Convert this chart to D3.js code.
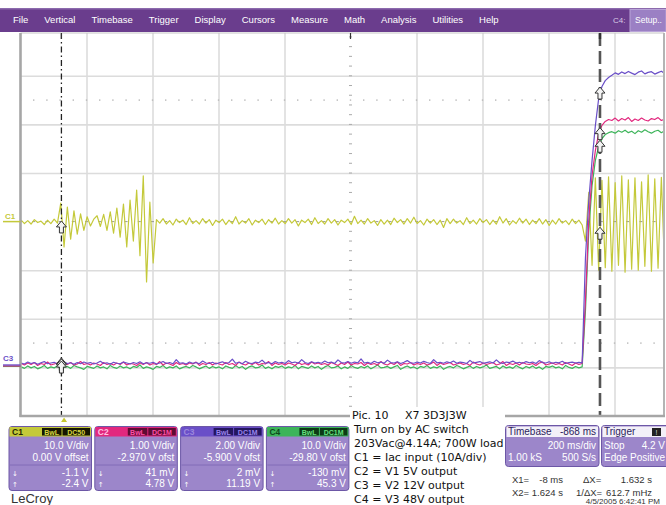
<!DOCTYPE html>
<html>
<head>
<meta charset="utf-8">
<script src="https://cdn.jsdelivr.net/npm/d3@7"></script>
<style>
  body { margin: 0; background: #fff; }
  svg { display: block; font-family: "Liberation Sans", Arial, sans-serif; }
</style>
</head>
<body>
<svg width="666" height="505"></svg>
<script>
var width = 666;
var height = 505;

// screen geometry (10 x 8 divisions, top row hidden under the menu bar)
var plotLeft = 20.5, plotRight = 680.5, plotTop = 27.2, plotBottom = 416;
var viewTop = 33, viewRight = 664;

// ---- DATA ----
// time axis: 200 ms/div, delay -868 ms
var timeDomain = [-0.132, 1.868];
var sampleStart = -0.13, sampleStep = 0.01;

// C1 Iac input (A)
var c1Amps = [
  0.3,-0.4,0.2,-0.5,0.4,-0.2,0.1,-0.6,0.3,-0.4,0.5,-0.3,
  3.8,-5.2,3.0,-3.6,2.2,-2.6,1.6,-1.8,1.0,-0.9,0.5,
  1.2,-1.0,1.5,-1.8,2.0,-2.4,2.8,-3.2,3.6,-5.2,4.4,-4.0,6.5,-7.0,9.4,-12.4,4.0,-8.5,
  0.4,-0.3,0.6,-0.5,0.2,-0.7,0.5,-0.2,0.3,-0.6,
  0.8,-0.4,0.2,-0.5,0.6,-0.3,0.4,-0.8,0.3,-0.2,
  0.5,-0.6,0.3,-0.4,1.0,-0.5,0.2,-0.3,0.6,-0.7,
  0.3,-0.2,0.5,-0.6,0.4,-0.3,0.7,-0.5,0.2,-0.4,
  0.6,-0.3,0.4,-0.9,0.3,-0.2,0.5,-0.6,0.8,-0.4,
  0.2,-0.5,0.6,-0.3,0.4,-0.7,0.3,-0.2,0.5,-0.6,
  1.1,-0.4,0.3,-0.5,0.6,-0.3,0.2,-0.8,0.4,-0.5,
  0.3,-0.6,0.7,-0.2,0.4,-0.5,0.6,-0.3,0.9,-0.4,
  0.2,-0.7,0.5,-0.3,0.4,-0.6,0.3,-1.2,0.6,-0.4,
  0.5,-0.3,0.2,-0.6,0.8,-0.4,0.3,-0.5,0.6,-0.2,
  0.4,-0.6,0.3,-0.5,1.0,-0.3,0.6,-0.7,0.2,-0.4,
  0.7,-0.3,0.5,-0.6,0.3,-0.4,0.6,-0.5,0.4,-0.8,
  0.3,-0.5,0.6,-0.3,0.2,-0.6,0.5,-0.4,0.3,-0.7,
  -4.0,
  6.0,-9.0,9.0,-10.0,8.5,-9.5,9.2,-10.2,8.0,-9.0,9.4,-10.4,8.6,-9.8,9.0,-10.0,
  8.2,-9.2,9.6,-10.2,8.8,-9.6,9.1,-10.0,8.4,-9.4,9.3,-10.1,8.7
];

// C2 V1 5V output (V)
var c2Volts = [
  0.05,0.02,0.06,0.03,0.07,0.01,0.05,0.03,0.08,0.02,
  0.04,0.06,0.01,0.05,0.03,0.07,0.02,0.04,0.09,0.03,
  0.05,0.02,0.06,0.04,0.01,0.07,0.03,0.05,0.02,0.06,
  0.03,0.08,0.02,0.05,0.04,0.01,0.06,0.03,0.07,0.02,
  0.05,0.03,0.09,0.02,0.06,0.04,0.01,0.07,0.03,0.05,
  0.02,0.06,0.04,0.08,0.01,0.05,0.03,0.07,0.02,0.06,
  0.04,0.02,0.07,0.03,0.05,0.01,0.08,0.04,0.02,0.06,
  0.03,0.07,0.02,0.05,0.04,0.09,0.01,0.06,0.03,0.05,
  0.02,0.06,0.04,0.01,0.07,0.03,0.05,0.02,0.08,0.04,
  0.06,0.03,0.05,0.02,0.07,0.04,0.01,0.06,0.03,0.08,
  0.02,0.05,0.04,0.07,0.01,0.06,0.03,0.05,0.02,0.09,
  0.04,0.02,0.06,0.03,0.08,0.01,0.05,0.04,0.07,0.02,
  0.05,0.03,0.06,0.02,0.04,0.08,0.01,0.06,0.03,0.05,
  0.07,0.02,0.04,0.06,0.03,0.05,0.01,0.08,0.04,0.02,
  0.06,0.03,0.05,0.07,0.02,0.04,0.09,0.01,0.05,0.03,
  0.06,0.02,0.07,0.04,0.03,0.05,0.01,0.06,0.08,0.02,
  0.04,0.06,0.03,0.05,0.02,0.07,0.04,0.01,0.06,0.03,
  0.05,
  1.35,2.99,3.92,4.43,4.78,4.95,5.03,5.07,
  5.05,5.10,5.04,5.09,5.06,5.11,5.03,5.08,5.05,5.10,5.06,
  5.04,5.09,5.07,5.11,5.05,5.08,5.04,5.10,5.06,5.09,5.05
];

// C3 V2 12V output (V)
var c3Volts = [
  0.08,0.04,0.12,0.06,0.10,0.03,0.09,0.14,0.05,0.08,
  0.11,0.04,0.07,0.13,0.06,0.09,0.03,0.10,0.05,0.12,
  0.07,0.10,0.04,0.08,0.15,0.06,0.09,0.03,0.11,0.07,
  0.05,0.12,0.08,0.04,0.10,0.06,0.13,0.05,0.09,0.07,
  0.11,0.04,0.08,0.14,0.06,0.10,0.05,0.22,0.07,0.09,
  0.04,0.12,0.07,0.10,0.05,0.16,0.08,0.06,0.11,0.04,
  0.09,0.13,0.06,0.10,0.24,0.07,0.11,0.05,0.15,0.08,
  0.06,0.12,0.09,0.20,0.07,0.10,0.05,0.14,0.08,0.11,
  0.06,0.18,0.09,0.12,0.07,0.22,0.10,0.06,0.13,0.08,
  0.11,0.07,0.16,0.09,0.12,0.06,0.21,0.10,0.08,0.14,
  0.07,0.12,0.09,0.25,0.08,0.11,0.06,0.15,0.09,0.12,
  0.07,0.20,0.10,0.08,0.13,0.06,0.11,0.18,0.09,0.07,
  0.12,0.08,0.15,0.10,0.06,0.22,0.09,0.11,0.07,0.13,
  0.09,0.16,0.07,0.12,0.10,0.06,0.19,0.08,0.11,0.14,
  0.07,0.10,0.13,0.08,0.21,0.09,0.06,0.12,0.10,0.16,
  0.08,0.11,0.07,0.14,0.09,0.12,0.06,0.18,0.10,0.08,
  0.13,0.07,0.11,0.09,0.15,0.06,0.10,0.12,0.08,0.11,
  0.09,
  4.42,6.76,8.41,9.85,10.96,11.46,11.70,11.83,11.92,
  12.02,11.96,12.06,11.99,12.08,12.01,11.95,12.05,12.10,11.98,12.04,
  12.07,11.97,12.03,12.09,12.00,11.96,12.06,12.02,12.08,11.99
];

// C4 V3 48V output (V)
var c4Volts = [
  -0.1,-0.4,0.1,-0.3,0.0,-0.5,-0.2,0.2,-0.4,-0.1,
  -0.3,0.1,-0.5,-0.2,0.0,-0.4,0.2,-0.1,-0.3,-0.6,
  0.0,-0.2,-0.4,0.1,-0.3,-0.1,-0.5,0.2,-0.2,-0.4,
  0.1,-0.3,-0.1,-0.5,0.0,-0.2,0.3,-0.4,-0.1,-0.3,
  -0.6,0.0,-0.2,0.2,-0.4,-0.1,-0.3,0.1,-0.5,-0.2,
  0.0,-0.3,0.2,-0.1,-0.5,-0.2,0.1,-0.4,0.0,-0.3,
  -0.1,-0.5,0.1,-0.2,-0.4,0.2,-0.3,0.0,-0.6,-0.1,
  0.1,-0.3,-0.2,0.3,-0.4,-0.1,-0.5,0.0,-0.2,0.1,
  -0.4,-0.1,-0.3,0.2,-0.5,0.0,-0.2,-0.4,0.1,-0.3,
  0.0,-0.6,-0.1,0.2,-0.3,-0.2,0.1,-0.5,-0.1,-0.4,
  0.2,-0.2,-0.4,0.0,-0.3,0.1,-0.5,-0.1,0.3,-0.3,
  -0.2,0.0,-0.4,-0.1,0.2,-0.6,-0.2,0.1,-0.3,-0.1,
  -0.5,0.0,-0.2,0.2,-0.4,-0.1,-0.3,0.1,-0.6,-0.2,
  0.0,-0.3,0.2,-0.1,-0.5,-0.2,0.1,-0.4,0.0,-0.3,
  -0.1,0.3,-0.4,-0.2,0.0,-0.5,0.1,-0.3,-0.1,-0.4,
  0.2,-0.2,-0.5,0.0,-0.3,0.1,-0.4,-0.1,-0.6,0.0,
  -0.2,0.1,-0.3,-0.1,-0.5,0.2,-0.2,-0.4,0.0,-0.3,
  -0.1,
  11.5,27.9,37.2,42.4,45.2,46.9,47.7,48.1,
  48.3,48.0,48.5,48.2,48.6,48.1,48.4,47.9,48.5,48.2,48.7,
  48.3,48.0,48.4,48.6,48.1,48.5,48.2,48.3,48.6,48.0,48.4
];

var channelNames = ["C1", "C2", "C3", "C4"];
var voltsPerDiv = [10, 1, 2, 10];
var channelOffsets = [0, -2.97, -5.9, -29.8];
var scaleLabels = ["10.0 V/div", "1.00 V/div", "2.00 V/div", "10.0 V/div"];
var offsetLabels = ["0.00 V offset", "-2.970 V ofst", "-5.900 V ofst", "-29.80 V ofst"];
var couplingLabels = ["DC50", "DC1M", "DC1M", "DC1M"];
var cursor1Values = [-1.1, 0.041, 0.002, -0.13];
var cursor2Values = [-2.4, 4.78, 11.19, 45.3];
var cursor1Labels = ["-1.1 V", "41 mV", "2 mV", "-130 mV"];
var cursor2Labels = ["-2.4 V", "4.78 V", "11.19 V", "45.3 V"];
var cursorTimes = [-0.008, 1.624];
var triggerTime = 0;

var menuItems = ["File", "Vertical", "Timebase", "Trigger", "Display", "Cursors",
                 "Measure", "Math", "Analysis", "Utilities", "Help"];
var noteTitle = ["Pic. 10", "X7 3D3J3W"];
var noteLines = ["Turn on by AC switch", "203Vac@4.14A; 700W load", "C1 = Iac input (10A/div)",
                 "C2 = V1 5V output", "C3 = V2 12V output", "C4 = V3 48V output"];

// ---- STYLES ----
var traceColors = ["#c4c93a", "#e2287e", "#6a4fc8", "#3db45a"];
var headerText = ["#262600", "#ffc2e2", "#9c88dc", "#0e4a1c"];
var tagFill = ["#161600", "#5e0c34", "#24165e", "#0c3a16"];
var tagText = ["#d8d840", "#ff4fa8", "#9a84ee", "#64e07e"];
var panelFill = "#9c86ca", panelStroke = "#6c57a6";

var svg = d3.select("svg").attr("width", width).attr("height", height);

svg.append("defs").append("clipPath").attr("id", "screen")
  .append("rect")
    .attr("x", plotLeft).attr("y", viewTop)
    .attr("width", viewRight - plotLeft).attr("height", plotBottom - viewTop);

// scales
var xScale = d3.scaleLinear().domain(timeDomain).range([plotLeft, plotRight]);
var divX = d3.scaleLinear().domain([0, 10]).range([plotLeft, plotRight]);
var divY = d3.scaleLinear().domain([-4, 4]).range([plotBottom, plotTop]);
var yScales = channelNames.map(function (c, i) {
  var center = -channelOffsets[i];
  return d3.scaleLinear()
    .domain([center - 4 * voltsPerDiv[i], center + 4 * voltsPerDiv[i]])
    .range([plotBottom, plotTop]);
});

// grid
var screen = svg.append("g").attr("clip-path", "url(#screen)");

screen.append("g")
    .attr("transform", `translate(0,${plotBottom})`)
    .call(d3.axisBottom(divX).tickValues([1, 2, 3, 4, 6, 7, 8, 9, 10])
      .tickSize(-(plotBottom - plotTop)).tickFormat(""))
    .call(g => g.select(".domain").remove())
    .selectAll("line").attr("stroke", "#dcdcdc").attr("stroke-width", 1.6);

screen.append("g")
    .attr("transform", `translate(${plotLeft},0)`)
    .call(d3.axisLeft(divY).tickValues([-3, -2, -1, 1, 2, 3, 4])
      .tickSize(-(plotRight - plotLeft)).tickFormat(""))
    .call(g => g.select(".domain").remove())
    .selectAll("line").attr("stroke", "#dcdcdc").attr("stroke-width", 1.6);

// centre axes with minor ticks
var minorX = d3.range(0, 50.5, 1).map(d => d / 5);
var minorY = d3.range(-20, 20.5, 1).map(d => d / 5);

screen.append("g").selectAll("line").data(minorX).enter().append("line")
    .attr("x1", d => divX(d) - 1.5).attr("x2", d => divX(d) + 1.5)
    .attr("y1", divY(0)).attr("y2", divY(0))
    .attr("stroke", "#999").attr("stroke-width", 1);

screen.append("g").selectAll("line").data(minorY).enter().append("line")
    .attr("x1", divX(5) - 1.5).attr("x2", divX(5) + 1.5)
    .attr("y1", d => divY(d)).attr("y2", d => divY(d))
    .attr("stroke", "#aaa").attr("stroke-width", 1);

// dotted rows at +/- 2.5 div
[2.5, -2.5].forEach(function (level) {
  screen.append("g").selectAll("rect").data(minorX).enter().append("rect")
      .attr("x", d => divX(d) - 0.7).attr("y", divY(level) - 0.7)
      .attr("width", 1.4).attr("height", 1.4)
      .attr("fill", "#b8b8b8");
});

// frame
svg.append("line").attr("x1", plotLeft).attr("x2", viewRight).attr("y1", viewTop).attr("y2", viewTop)
    .attr("stroke", "#c4c4c4").attr("stroke-width", 1);
svg.append("line").attr("x1", viewRight).attr("x2", viewRight).attr("y1", viewTop).attr("y2", plotBottom)
    .attr("stroke", "#b4b4b4").attr("stroke-width", 2);
svg.append("line").attr("x1", plotLeft).attr("x2", plotLeft).attr("y1", viewTop).attr("y2", plotBottom + 1)
    .attr("stroke", "#a6a6a6").attr("stroke-width", 2.6);
svg.append("line").attr("x1", plotLeft - 1).attr("x2", viewRight + 1).attr("y1", plotBottom).attr("y2", plotBottom)
    .attr("stroke", "#a6a6a6").attr("stroke-width", 2.6);

// traces
var sampleTime = i => sampleStart + i * sampleStep;
var traces = [c1Amps, c2Volts, c3Volts, c4Volts];
[0, 3, 1, 2].forEach(function (ch) {
  var line = d3.line()
      .x((d, i) => xScale(sampleTime(i)))
      .y(d => yScales[ch](d));
  screen.append("path")
      .datum(traces[ch])
      .attr("d", line)
      .attr("fill", "none")
      .attr("stroke", traceColors[ch])
      .attr("stroke-width", 1.2)
      .attr("stroke-linejoin", "round");
});

// cursors
screen.append("line")
    .attr("x1", xScale(cursorTimes[0])).attr("x2", xScale(cursorTimes[0]))
    .attr("y1", viewTop).attr("y2", plotBottom)
    .attr("stroke", "#222").attr("stroke-width", 1.3)
    .attr("stroke-dasharray", "6,3,1.5,3");
screen.append("line")
    .attr("x1", xScale(cursorTimes[1])).attr("x2", xScale(cursorTimes[1]))
    .attr("y1", viewTop).attr("y2", plotBottom)
    .attr("stroke", "#555").attr("stroke-width", 2.6)
    .attr("stroke-dasharray", "13,5");

// top markers (cursors and screen centre)
[xScale(cursorTimes[0]), divX(5), xScale(cursorTimes[1])].forEach(function (mx, k) {
  svg.append("line").attr("x1", mx).attr("x2", mx).attr("y1", viewTop).attr("y2", viewTop + 6)
      .attr("stroke", "#333").attr("stroke-width", k === 2 ? 2.4 : 1.2);
});

// cursor arrows on each trace
var arrowPath = "M0,-6 L5,0 L2,0 L2,6 L-2,6 L-2,0 L-5,0 Z";
[cursor1Values, cursor2Values].forEach(function (vals, k) {
  screen.append("g").selectAll("path").data(vals).enter().append("path")
      .attr("d", arrowPath)
      .attr("transform", (d, i) => `translate(${xScale(cursorTimes[k])},${yScales[i](d)})`)
      .attr("fill", "#f4f4f4").attr("stroke", "#333").attr("stroke-width", 1);
});

// trigger position marker
var tx = xScale(triggerTime);
svg.append("path")
    .attr("d", `M${tx},${plotBottom + 1.5} L${tx + 3},${plotBottom + 6} L${tx - 3},${plotBottom + 6} Z`)
    .attr("fill", "#c8c832");

// ground reference labels (C1 and the C2..C4 group labelled C3)
svg.append("line").attr("x1", 3).attr("x2", plotLeft).attr("y1", yScales[0](0)).attr("y2", yScales[0](0))
    .attr("stroke", traceColors[0]).attr("stroke-width", 1.5);
svg.append("text").attr("x", 5).attr("y", yScales[0](0) - 3)
    .style("font-size", "8px").style("font-weight", "bold").attr("fill", traceColors[0]).text("C1");
[3, 1, 2].forEach(function (ch) {
  svg.append("line").attr("x1", 3).attr("x2", plotLeft).attr("y1", yScales[ch](0)).attr("y2", yScales[ch](0))
      .attr("stroke", traceColors[ch]).attr("stroke-width", 1.3);
});
svg.append("text").attr("x", 3).attr("y", yScales[2](0) - 4)
    .style("font-size", "8px").style("font-weight", "bold").attr("fill", traceColors[2]).text("C3");

// menu bar
svg.append("rect").attr("x", 0).attr("y", 8).attr("width", width).attr("height", 24).attr("fill", "#6a3d8d");
svg.append("rect").attr("x", 0).attr("y", 8).attr("width", width).attr("height", 1.5).attr("fill", "#8c6aad");
var mx = 13;
menuItems.forEach(function (m) {
  var t = svg.append("text").attr("x", mx).attr("y", 22.5)
      .style("font-size", "9.5px").attr("fill", "#fff").text(m);
  mx += t.node().getComputedTextLength() + 16;
});
svg.append("text").attr("x", 613).attr("y", 22.5).style("font-size", "8px").attr("fill", "#d8cce6").text("C4:");
svg.append("rect").attr("x", 630).attr("y", 9.5).attr("width", 36).attr("height", 22)
    .attr("fill", "#9b80c4").attr("stroke", "#b9a4d8");
svg.append("text").attr("x", 635).attr("y", 22.5).style("font-size", "8.5px").attr("fill", "#fff").text("Setup..");

// channel panels
var panelTop = 426.5, panelBottom = 490.5, panelW = 82.5;
var panels = svg.append("g").selectAll("g").data(channelNames).enter().append("g")
    .attr("transform", (d, i) => `translate(${9 + i * 85.8},0)`);

panels.append("rect")
    .attr("x", 0).attr("y", panelTop).attr("width", panelW).attr("height", panelBottom - panelTop)
    .attr("rx", 3).attr("fill", panelFill).attr("stroke", panelStroke);
panels.append("rect")
    .attr("x", 0.5).attr("y", panelTop + 0.5).attr("width", panelW - 1).attr("height", 9.5)
    .attr("fill", (d, i) => traceColors[i]);
panels.append("text").attr("x", 3).attr("y", panelTop + 8.5)
    .style("font-size", "8.5px").style("font-weight", "bold")
    .attr("fill", (d, i) => headerText[i]).text(d => d);
panels.append("rect").attr("x", 33).attr("y", panelTop + 1.5).attr("width", 19.5).attr("height", 7.5)
    .attr("fill", (d, i) => tagFill[i]);
panels.append("text").attr("x", 42.7).attr("y", panelTop + 8).attr("text-anchor", "middle")
    .style("font-size", "7px").style("font-weight", "bold")
    .attr("fill", (d, i) => tagText[i]).text("BwL");
panels.append("rect").attr("x", 53.5).attr("y", panelTop + 1.5).attr("width", 27.5).attr("height", 7.5)
    .attr("fill", (d, i) => tagFill[i]);
panels.append("text").attr("x", 67.2).attr("y", panelTop + 8).attr("text-anchor", "middle")
    .style("font-size", "7px").style("font-weight", "bold")
    .attr("fill", (d, i) => tagText[i]).text((d, i) => couplingLabels[i]);

var rowText = [scaleLabels, offsetLabels, cursor1Labels, cursor2Labels];
var rowBase = [449, 461, 475.5, 487];
rowText.forEach(function (labels, r) {
  panels.append("text").attr("x", panelW - 3).attr("y", rowBase[r]).attr("text-anchor", "end")
      .style("font-size", "10px").attr("fill", "#fff").text((d, i) => labels[i]);
});
panels.append("line").attr("x1", 1).attr("x2", panelW - 1).attr("y1", 465).attr("y2", 465)
    .attr("stroke", "#7b66b2").attr("stroke-width", 0.8);
panels.append("text").attr("x", 3).attr("y", 475.5).style("font-family", "DejaVu Sans")
    .style("font-size", "7px").attr("fill", "#fff").text("\u2193");
panels.append("text").attr("x", 3).attr("y", 487).style("font-family", "DejaVu Sans")
    .style("font-size", "7px").attr("fill", "#fff").text("\u2191");

svg.append("text").attr("x", 11).attr("y", 503)
    .style("font-size", "13px").attr("fill", "#333").text("LeCroy");

// note block
svg.append("rect").attr("x", 350).attr("y", 407).attr("width", 155).attr("height", 98).attr("fill", "#fff");
svg.append("text").attr("x", 352).attr("y", 419)
    .style("font-family", "DejaVu Sans").style("font-size", "11px").attr("fill", "#111").text(noteTitle[0]);
svg.append("text").attr("x", 405).attr("y", 419)
    .style("font-family", "DejaVu Sans").style("font-size", "11px").attr("fill", "#111").text(noteTitle[1]);
svg.append("g").selectAll("text").data(noteLines).enter().append("text")
    .attr("x", 354).attr("y", (d, i) => 433 + i * 13.9)
    .style("font-family", "DejaVu Sans").style("font-size", "11px").attr("fill", "#111")
    .text(d => d);

// timebase box
svg.append("rect").attr("x", 505.5).attr("y", 425.5).attr("width", 93.5).attr("height", 41)
    .attr("rx", 3).attr("fill", panelFill).attr("stroke", panelStroke);
svg.append("rect").attr("x", 506.5).attr("y", 426.5).attr("width", 91.5).attr("height", 10.5).attr("fill", "#f3f0f8");
svg.append("text").attr("x", 508).attr("y", 435).style("font-size", "10px").attr("fill", "#2b1d5c").text("Timebase");
svg.append("text").attr("x", 596).attr("y", 435).attr("text-anchor", "end").style("font-size", "10px").attr("fill", "#2b1d5c").text("-868 ms");
svg.append("text").attr("x", 596).attr("y", 449).attr("text-anchor", "end").style("font-size", "10px").attr("fill", "#fff").text("200 ms/div");
svg.append("text").attr("x", 508).attr("y", 461).style("font-size", "10px").attr("fill", "#fff").text("1.00 kS");
svg.append("text").attr("x", 596).attr("y", 461).attr("text-anchor", "end").style("font-size", "10px").attr("fill", "#fff").text("500 S/s");

// trigger box
svg.append("rect").attr("x", 601.5).attr("y", 425.5).attr("width", 70).attr("height", 41)
    .attr("rx", 3).attr("fill", panelFill).attr("stroke", panelStroke);
svg.append("rect").attr("x", 602.5).attr("y", 426.5).attr("width", 68).attr("height", 10.5).attr("fill", "#f3f0f8");
svg.append("text").attr("x", 604).attr("y", 435).style("font-size", "10px").attr("fill", "#2b1d5c").text("Trigger");
svg.append("rect").attr("x", 652).attr("y", 428).attr("width", 9).attr("height", 8).attr("fill", "#222");
svg.append("text").attr("x", 656.5).attr("y", 434.5).attr("text-anchor", "middle").style("font-size", "7px").attr("fill", "#ddd").text("!");
svg.append("text").attr("x", 604).attr("y", 449).style("font-size", "10px").attr("fill", "#fff").text("Stop");
svg.append("text").attr("x", 665).attr("y", 449).attr("text-anchor", "end").style("font-size", "10px").attr("fill", "#fff").text("4.2 V");
svg.append("text").attr("x", 604).attr("y", 461).style("font-size", "10px").attr("fill", "#fff").text("Edge");
svg.append("text").attr("x", 665).attr("y", 461).attr("text-anchor", "end").style("font-size", "10px").attr("fill", "#fff").text("Positive");

// cursor readouts
var readout = svg.append("g").style("font-size", "9.5px").attr("fill", "#333");
readout.append("text").attr("x", 512).attr("y", 483).text("X1=");
readout.append("text").attr("x", 563).attr("y", 483).attr("text-anchor", "end").text("-8 ms");
readout.append("text").attr("x", 583).attr("y", 483).text("\u0394X=");
readout.append("text").attr("x", 652).attr("y", 483).attr("text-anchor", "end").text("1.632 s");
readout.append("text").attr("x", 512).attr("y", 496).text("X2=");
readout.append("text").attr("x", 563).attr("y", 496).attr("text-anchor", "end").text("1.624 s");
readout.append("text").attr("x", 576).attr("y", 496).text("1/\u0394X=");
readout.append("text").attr("x", 652).attr("y", 496).attr("text-anchor", "end").text("612.7 mHz");
svg.append("text").attr("x", 660).attr("y", 504).attr("text-anchor", "end")
    .style("font-size", "8px").attr("fill", "#333").text("4/5/2005 6:42:41 PM");
</script>
</body>
</html>
